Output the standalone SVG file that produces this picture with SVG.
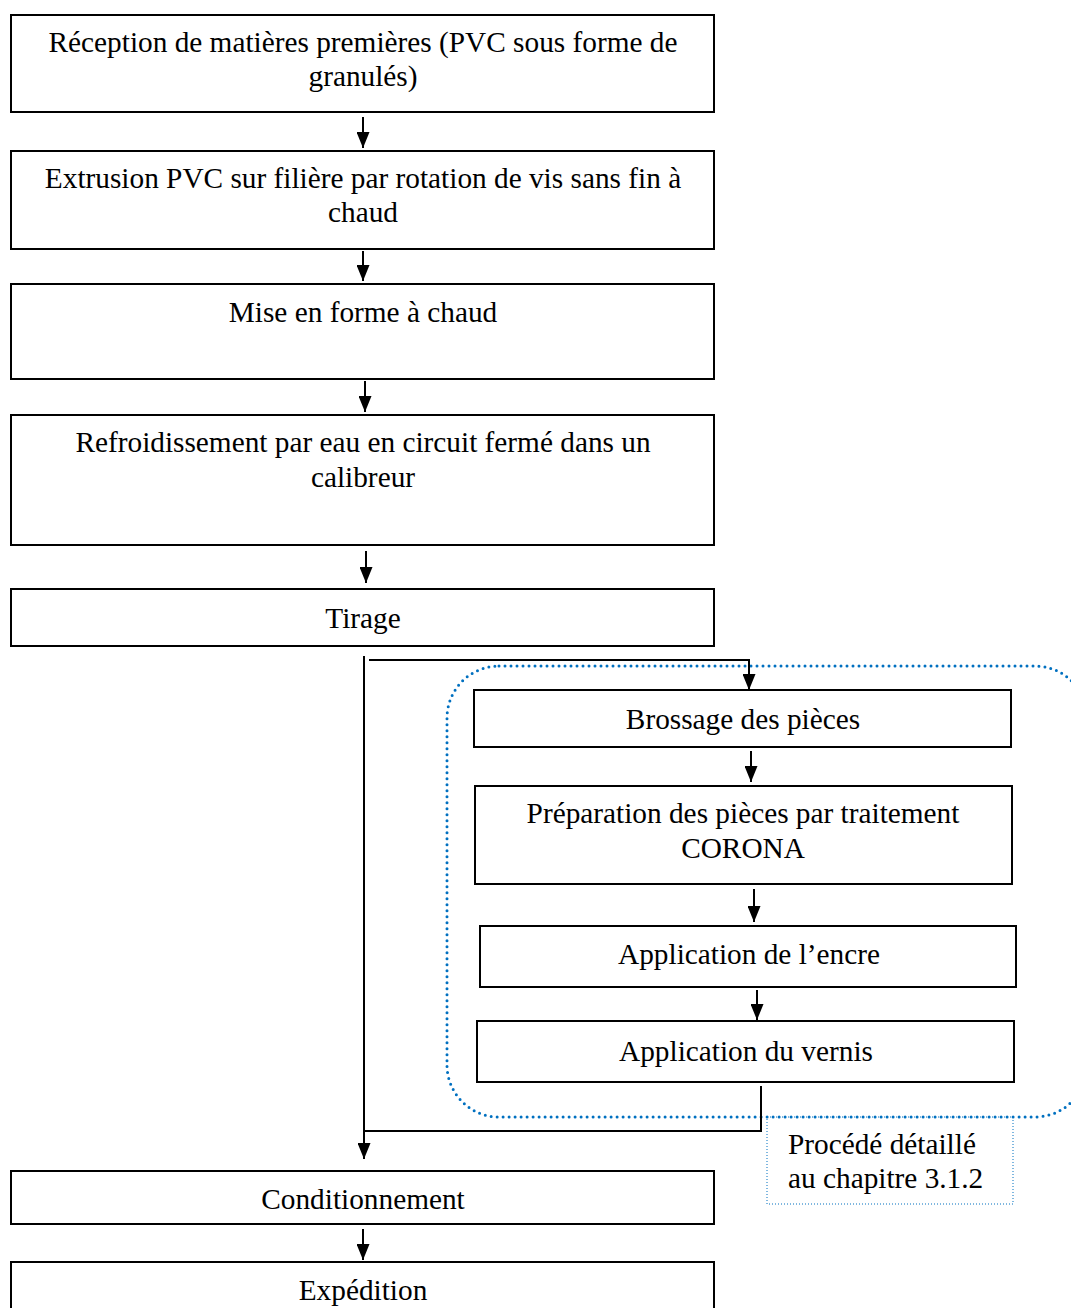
<svg xmlns="http://www.w3.org/2000/svg" width="1071" height="1308" viewBox="0 0 1071 1308">
<defs>
<marker id="ah" viewBox="0 0 16 13" refX="16" refY="6.5" markerWidth="16" markerHeight="13" markerUnits="userSpaceOnUse" orient="auto">
<path d="M0,0 L16,6.5 L0,13 Z" fill="#000"/>
</marker>
<style>
.box{fill:#fff;stroke:#000;stroke-width:2}
.t{font-family:"Liberation Serif","Times New Roman",serif;font-size:29.3px;fill:#000;text-anchor:middle}
.tl{font-family:"Liberation Serif","Times New Roman",serif;font-size:29.3px;fill:#000}
.c{fill:none;stroke:#000;stroke-width:2}
.a{fill:none;stroke:#000;stroke-width:2}
</style>
</defs>
<rect width="1071" height="1308" fill="#fff"/>
<g id="group-detail">
<rect x="447" y="666" width="640" height="451" rx="52" ry="52" fill="none" stroke="#0070C0" stroke-width="3" stroke-dasharray="0 6" stroke-linecap="round"/>
</g>
<g id="note">
<rect x="767" y="1117" width="246" height="87" fill="none" stroke="#0070C0" stroke-width="1" stroke-dasharray="1 2"/>
<text class="tl" x="788" y="1154">Procédé détaillé</text>
<text class="tl" x="788" y="1188">au chapitre 3.1.2</text>
</g>
<g id="connectors">
<line class="a" x1="363" y1="117" x2="363" y2="148" marker-end="url(#ah)"/>
<line class="a" x1="363" y1="251" x2="363" y2="281" marker-end="url(#ah)"/>
<line class="a" x1="365" y1="381" x2="365" y2="412" marker-end="url(#ah)"/>
<line class="a" x1="366" y1="551" x2="366" y2="583" marker-end="url(#ah)"/>
<polyline class="c" points="369,660 749,660 749,690" marker-end="url(#ah)"/>
<line class="a" x1="364" y1="656" x2="364" y2="1159" marker-end="url(#ah)"/>
<line class="a" x1="751" y1="751" x2="751" y2="782" marker-end="url(#ah)"/>
<line class="a" x1="754" y1="889" x2="754" y2="922" marker-end="url(#ah)"/>
<line class="a" x1="757" y1="990" x2="757" y2="1020" marker-end="url(#ah)"/>
<polyline class="c" points="761,1086 761,1131 364,1131"/>
<line class="a" x1="363" y1="1229" x2="363" y2="1260" marker-end="url(#ah)"/>
</g>
<g id="n1">
<rect class="box" x="11" y="15" width="703" height="97"/>
<text class="t" x="363" y="52">Réception de matières premières (PVC sous forme de</text>
<text class="t" x="363" y="86">granulés)</text>
</g>
<g id="n2">
<rect class="box" x="11" y="151" width="703" height="98"/>
<text class="t" x="363" y="188">Extrusion PVC sur filière par rotation de vis sans fin à</text>
<text class="t" x="363" y="222">chaud</text>
</g>
<g id="n3">
<rect class="box" x="11" y="284" width="703" height="95"/>
<text class="t" x="363" y="322">Mise en forme à chaud</text>
</g>
<g id="n4">
<rect class="box" x="11" y="415" width="703" height="130"/>
<text class="t" x="363" y="452">Refroidissement par eau en circuit fermé dans un</text>
<text class="t" x="363" y="487">calibreur</text>
</g>
<g id="n5">
<rect class="box" x="11" y="589" width="703" height="57"/>
<text class="t" x="363" y="628">Tirage</text>
</g>
<g id="n6">
<rect class="box" x="474" y="690" width="537" height="57"/>
<text class="t" x="743" y="729">Brossage des pièces</text>
</g>
<g id="n7">
<rect class="box" x="475" y="786" width="537" height="98"/>
<text class="t" x="743" y="823">Préparation des pièces par traitement</text>
<text class="t" x="743" y="858">CORONA</text>
</g>
<g id="n8">
<rect class="box" x="480" y="926" width="536" height="61"/>
<text class="t" x="749" y="964">Application de l’encre</text>
</g>
<g id="n9">
<rect class="box" x="477" y="1021" width="537" height="61"/>
<text class="t" x="746" y="1061">Application du vernis</text>
</g>
<g id="n10">
<rect class="box" x="11" y="1171" width="703" height="53"/>
<text class="t" x="363" y="1209">Conditionnement</text>
</g>
<g id="n11">
<rect class="box" x="11" y="1262" width="703" height="60"/>
<text class="t" x="363" y="1300">Expédition</text>
</g>
</svg>
